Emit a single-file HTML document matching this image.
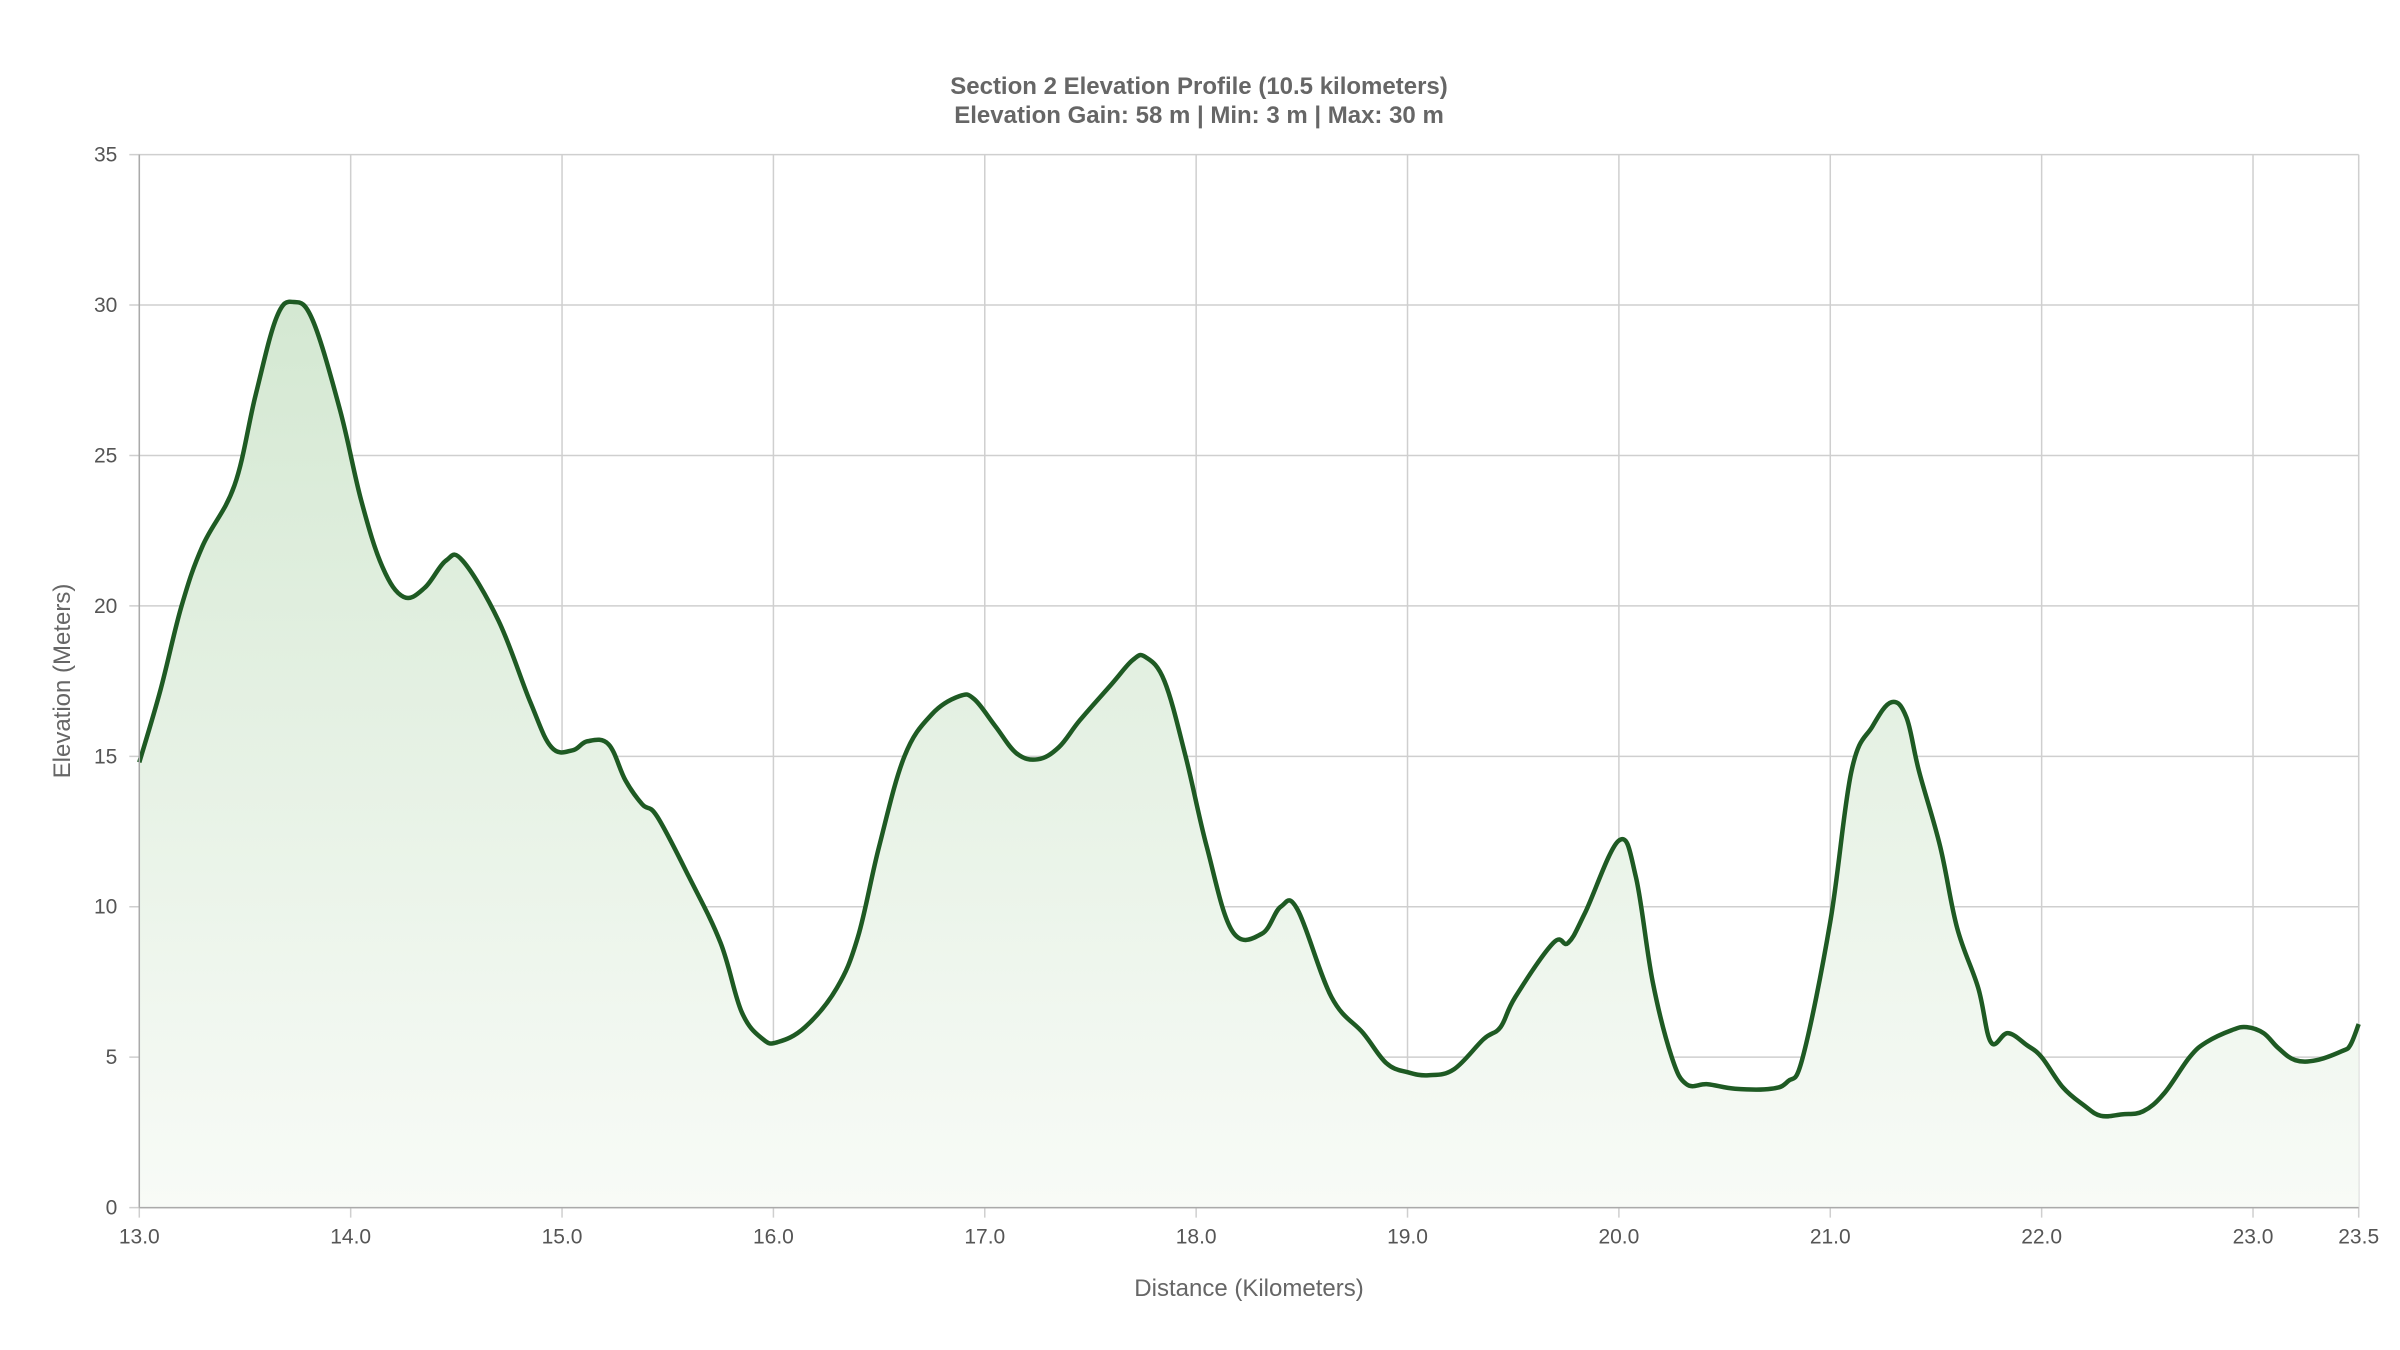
<!DOCTYPE html>
<html><head><meta charset="utf-8"><style>
html,body{margin:0;padding:0;background:#fff;}
svg{display:block;font-family:"Liberation Sans",Arial,sans-serif;}
</style></head><body>
<svg id="chart" width="2400" height="1350" viewBox="0 0 2400 1350" xmlns="http://www.w3.org/2000/svg">
<defs>
<linearGradient id="fillGrad" x1="0" y1="0" x2="0" y2="1">
<stop offset="0" stop-color="#d4e8d2"/>
<stop offset="1" stop-color="#f8fbf7"/>
</linearGradient>
</defs>
<text x="1199" y="94" text-anchor="middle" font-size="24" font-weight="bold" fill="#666">Section 2 Elevation Profile (10.5 kilometers)</text>
<text x="1199" y="123" text-anchor="middle" font-size="24" font-weight="bold" fill="#666">Elevation Gain: 58 m | Min: 3 m | Max: 30 m</text>
<g id="grid"></g>
<g id="plot"></g>
<g id="axes"></g>
<text x="1249" y="1296" text-anchor="middle" font-size="24" fill="#666">Distance (Kilometers)</text>
<text transform="translate(70,681) rotate(-90)" text-anchor="middle" font-size="24" fill="#666">Elevation (Meters)</text>
</svg>
<script>
const distances=[13.0,13.1,13.2,13.3,13.45,13.55,13.65,13.73,13.82,13.95,14.05,14.15,14.25,14.35,14.45,14.53,14.7,14.85,14.95,15.05,15.12,15.22,15.3,15.38,15.45,15.6,15.75,15.85,15.95,16.02,16.15,16.3,16.4,16.5,16.62,16.75,16.88,16.95,17.05,17.15,17.25,17.35,17.45,17.6,17.7,17.76,17.85,17.95,18.05,18.17,18.31,18.4,18.48,18.64,18.79,18.9,19.0,19.1,19.22,19.36,19.44,19.51,19.69,19.76,19.84,20.0,20.08,20.16,20.25,20.32,20.42,20.55,20.72,20.8,20.87,21.0,21.1,21.2,21.29,21.36,21.42,21.52,21.6,21.7,21.76,21.84,21.93,22.0,22.1,22.2,22.28,22.38,22.48,22.58,22.7,22.78,22.9,22.97,23.05,23.12,23.2,23.3,23.42,23.46,23.5];
const elevations=[14.8,17.2,20,22,24,27,29.6,30.1,29.5,26.5,23.5,21.3,20.3,20.6,21.5,21.5,19.5,16.8,15.3,15.2,15.5,15.4,14.2,13.4,13.0,11.0,8.8,6.5,5.6,5.5,6.0,7.3,9.0,12.0,15.0,16.4,17.0,16.9,16.0,15.1,14.9,15.3,16.2,17.4,18.2,18.3,17.5,15.0,12.0,9.2,9.1,10.0,9.9,7.0,5.8,4.8,4.5,4.4,4.6,5.6,6.0,7.0,8.8,8.8,9.8,12.2,11.0,7.5,5.0,4.1,4.1,3.95,3.95,4.2,5.0,9.5,14.5,16.0,16.8,16.3,14.5,12.0,9.3,7.3,5.5,5.8,5.4,5.0,4.0,3.4,3.05,3.1,3.2,3.8,5.0,5.5,5.9,6.0,5.8,5.3,4.9,4.9,5.2,5.4,6.1];
const xTickLabels=["13.0","14.0","15.0","16.0","17.0","18.0","19.0","20.0","21.0","22.0","23.0","23.5"];
const xTickValues=[13,14,15,16,17,18,19,20,21,22,23,23.5];
const yTickValues=[0,5,10,15,20,25,30,35];

const X0=139.3,X1=2358.7,Y0=1207.6,Y1=154.6;
const xScale=v=>X0+(v-13)/(23.5-13)*(X1-X0);
const yScale=v=>Y0-(v/35)*(Y0-Y1);
const NS="http://www.w3.org/2000/svg";
function mk(tag,attrs,parent){const e=document.createElementNS(NS,tag);for(const k in attrs)e.setAttribute(k,attrs[k]);parent.appendChild(e);return e;}
const grid=document.getElementById('grid'),plot=document.getElementById('plot'),axes=document.getElementById('axes');
yTickValues.forEach(v=>{
  const y=yScale(v);
  const l=mk('line',{x1:X0-10,x2:X1,y1:y,y2:y,stroke:'#cfcfcf','stroke-width':1.5},grid);
  
  
  const t=mk('text',{x:X0-22,y:y+7,'text-anchor':'end','font-size':21,fill:'#555'},axes);
  t.textContent=v;
  
  
});
xTickValues.forEach((v,i)=>{
  const x=xScale(v);
  const l=mk('line',{x1:x,x2:x,y1:Y1,y2:Y0+10,stroke:'#cfcfcf','stroke-width':1.5},grid);
  
  
  const t=mk('text',{x:x,y:Y0+36,'text-anchor':'middle','font-size':21,fill:'#555'},axes);
  t.textContent=xTickLabels[i];
  
  
});
const pts=distances.map((d,i)=>[xScale(d),yScale(elevations[i])]);
let d=`M${pts[0][0]},${pts[0][1]}`;
for(let i=0;i<pts.length-1;i++){
  const p0=pts[Math.max(0,i-1)],p1=pts[i],p2=pts[i+1],p3=pts[Math.min(pts.length-1,i+2)];
  const t=0.18;
  const c1=[p1[0]+(p2[0]-p0[0])*t,p1[1]+(p2[1]-p0[1])*t];
  const c2=[p2[0]-(p3[0]-p1[0])*t,p2[1]-(p3[1]-p1[1])*t];
  d+=`C${c1[0]},${c1[1]} ${c2[0]},${c2[1]} ${p2[0]},${p2[1]}`;
}
const area=mk('path',{d:d+`L${pts[pts.length-1][0]},${Y0}L${pts[0][0]},${Y0}Z`,fill:'url(#fillGrad)'},plot);


const line=mk('path',{d:d,fill:'none',stroke:'#1e5a23','stroke-width':4.5,'stroke-linejoin':'round'},plot);


const ax=mk('line',{x1:X0,x2:X1,y1:Y0,y2:Y0,stroke:'#aaa','stroke-width':1.5},axes);


const ay=mk('line',{x1:X0,x2:X0,y1:Y1,y2:Y0,stroke:'#aaa','stroke-width':1.5},axes);


</script>
</body></html>
